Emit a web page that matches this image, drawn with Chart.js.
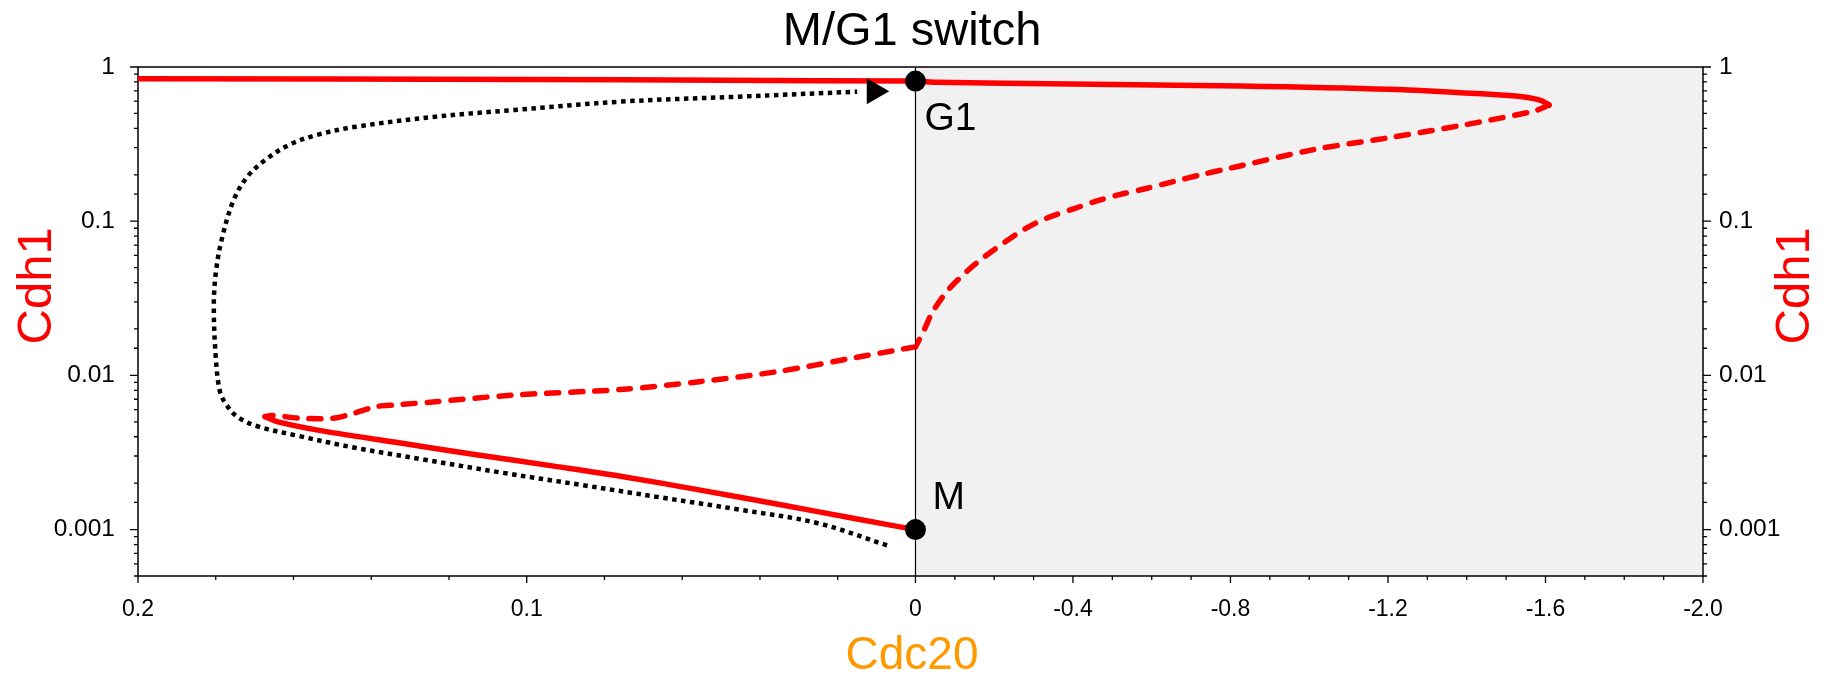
<!DOCTYPE html>
<html>
<head>
<meta charset="utf-8">
<title>M/G1 switch</title>
<script src="https://cdn.jsdelivr.net/npm/chart.js@4.4.1/dist/chart.umd.min.js"></script>
<style>
  body { margin: 0; background: #fff; }
  canvas { display: block; }
</style>
</head>
<body>
<canvas id="switchChart" width="1824" height="681"></canvas>
<script>
// [Cdc20, Cdh1] pairs. Cdc20 >= 0 sits on the left panel, Cdc20 <= 0 on the right one.
const g1StableLeft = [[0.2, 0.84], [0.1, 0.83], [0.05, 0.82], [0, 0.81]];
const g1StableRight = [[0, 0.81], [-0.052, 0.796], [-0.394, 0.775], [-0.824, 0.753], [-1.201, 0.716],
  [-1.486, 0.658], [-1.555, 0.635], [-1.59, 0.605], [-1.609, 0.567]];
const unstableRight = [[-1.609, 0.567], [-1.572, 0.519], [-1.391, 0.42], [-1.203, 0.348], [-1.014, 0.292],
  [-0.824, 0.228], [-0.796, 0.22], [-0.725, 0.2], [-0.656, 0.181], [-0.586, 0.163], [-0.515, 0.148],
  [-0.455, 0.134], [-0.405, 0.121], [-0.354, 0.1096], [-0.304, 0.0968], [-0.254, 0.0815],
  [-0.155, 0.0535], [-0.083, 0.0358], [-0.042, 0.0254], [-0.022, 0.0197], [0, 0.0153]];
const unstableLeft = [[0, 0.0153], [0.0048, 0.0146], [0.015, 0.0131], [0.0353, 0.0106], [0.0556, 0.0091],
  [0.0759, 0.0081], [0.1032, 0.00746], [0.1235, 0.00675], [0.1337, 0.00643], [0.1388, 0.00627],
  [0.1459, 0.00554], [0.15, 0.00527], [0.158, 0.00527], [0.1655, 0.0055], [0.1673, 0.0054]];
const mStableLeft = [[0.1673, 0.0054], [0.1642, 0.00501], [0.1541, 0.00443], [0.1337, 0.00368],
  [0.1134, 0.00307], [0.093, 0.00258], [0.0759, 0.00222], [0.0557, 0.00181], [0.0353, 0.00146],
  [0.015, 0.00117], [0, 0.001]];
const trajectory = [[0.0073, 0.00079], [0.0251, 0.0011], [0.0455, 0.00135], [0.0658, 0.00162],
  [0.0861, 0.00195], [0.1064, 0.00234], [0.1267, 0.00285], [0.1441, 0.00339], [0.1591, 0.00407],
  [0.1693, 0.00468], [0.1745, 0.0054], [0.1775, 0.0066], [0.179, 0.008],
  [0.18, 0.0132], [0.1805, 0.0279], [0.18, 0.0459], [0.1785, 0.0755], [0.1754, 0.137],
  [0.1719, 0.194], [0.1673, 0.249], [0.1612, 0.312], [0.1541, 0.362], [0.1439, 0.41],
  [0.1235, 0.476], [0.1032, 0.526], [0.0759, 0.596], [0.0455, 0.642], [0.015, 0.692]];
const arrowHead = [[0.0106, 0.697]];

const stateNames = ['G1', 'M'];
const stateCdc20 = [0, 0];
const stateCdh1 = [0.81, 0.001];

const cdh1TickLabels = [1, 0.1, 0.01, 0.001];
const cdc20LeftLabels = [0.2, 0.1, 0];
const cdc20RightLabels = [-0.4, -0.8, -1.2, -1.6, -2.0];
const yTitle = 'Cdh1';
const xTitle = 'Cdc20';

const RED = '#ff0000';
const ORANGE = '#ff9900';
const FONT = '"Liberation Sans", Arial, sans-serif';

const toXY = (pairs) => pairs.map(([x, y]) => ({ x, y }));
const near = (list, v) => list.some(t => Math.abs(t - v) < 1e-9);
const isDecade = (v) => Math.abs(Math.log10(v) - Math.round(Math.log10(v))) < 1e-6;
const fmtCdc20 = (v) => (v === 0 ? '0' : v.toFixed(1));

function line(data, xAxisID, style) {
  return Object.assign({
    data: toXY(data),
    xAxisID,
    yAxisID: 'y',
    showLine: true,
    pointRadius: 0,
    tension: 0.3,
    borderColor: RED,
    borderWidth: 5.5,
    borderCapStyle: 'round',
    borderJoinStyle: 'round',
  }, style);
}

// shaded right panel, frame and the Cdc20 = 0 divider
const panels = {
  id: 'panels',
  beforeDraw(chart) {
    const { ctx, chartArea: a, scales } = chart;
    const x0 = scales.xr.getPixelForValue(0);
    ctx.save();
    ctx.fillStyle = '#f1f1f1';
    ctx.fillRect(x0, a.top, a.right - x0, a.bottom - a.top);
    ctx.restore();
  },
  beforeDatasetsDraw(chart) {
    const { ctx, chartArea: a, scales } = chart;
    const x0 = Math.round(scales.xl.getPixelForValue(0)) + 0.5;
    ctx.save();
    ctx.strokeStyle = '#000';
    ctx.lineWidth = 1.5;
    ctx.strokeRect(a.left, a.top, a.right - a.left, a.bottom - a.top);
    ctx.lineWidth = 1.2;
    ctx.beginPath();
    ctx.moveTo(x0, a.top);
    ctx.lineTo(x0, a.bottom);
    ctx.stroke();
    ctx.restore();
  }
};

// outward tick marks, longer where a label sits
const tickMarks = {
  id: 'tickMarks',
  afterDraw(chart) {
    const { ctx, chartArea: a, scales } = chart;
    ctx.save();
    ctx.strokeStyle = '#000';
    ctx.lineWidth = 1.3;
    ctx.beginPath();
    scales.xl.ticks.forEach(t => {
      const px = scales.xl.getPixelForValue(t.value);
      const len = near(cdc20LeftLabels, t.value) ? 7 : 4;
      ctx.moveTo(px, a.bottom); ctx.lineTo(px, a.bottom + len);
    });
    scales.xr.ticks.forEach(t => {
      const px = scales.xr.getPixelForValue(t.value);
      const len = near(cdc20RightLabels, t.value) || t.value === 0 ? 7 : 4;
      ctx.moveTo(px, a.bottom); ctx.lineTo(px, a.bottom + len);
    });
    ['y', 'y2'].forEach(id => {
      const s = scales[id];
      const dir = id === 'y' ? -1 : 1;
      const x = id === 'y' ? a.left : a.right;
      s.ticks.forEach(t => {
        const py = s.getPixelForValue(t.value);
        const len = isDecade(t.value) ? 8 : 4;
        ctx.moveTo(x, py); ctx.lineTo(x + dir * len, py);
      });
    });
    ctx.stroke();
    ctx.restore();
  }
};

// Cdh1 on both sides, both reading bottom to top
const cdh1Titles = {
  id: 'cdh1Titles',
  afterDraw(chart) {
    const { ctx, chartArea: a } = chart;
    const cy = a.top + (a.bottom - a.top) * 0.43;
    ctx.save();
    ctx.font = '49px ' + FONT;
    ctx.fillStyle = RED;
    ctx.textAlign = 'center';
    ctx.textBaseline = 'middle';
    [a.left - 101, a.right + 92.5].forEach(cx => {
      ctx.save();
      ctx.translate(cx, cy);
      ctx.rotate(-Math.PI / 2);
      ctx.fillText(yTitle, 0, 0);
      ctx.restore();
    });
    ctx.restore();
  }
};

// G1 / M state names beside the black markers
const stateLabels = {
  id: 'stateLabels',
  afterDatasetsDraw(chart) {
    const { ctx, scales } = chart;
    ctx.save();
    ctx.fillStyle = '#000';
    ctx.font = '39px ' + FONT;
    ctx.textBaseline = 'alphabetic';
    ctx.textAlign = 'left';
    stateNames.forEach((name, i) => {
      const x = scales.xl.getPixelForValue(stateCdc20[i]);
      const y = scales.y.getPixelForValue(stateCdh1[i]);
      if (name === 'G1') ctx.fillText(name, x + 9, y + 49);
      else ctx.fillText(name, x + 17, y - 21);
    });
    ctx.restore();
  }
};

const cdh1Axis = (position, width, pad) => ({
  type: 'logarithmic',
  axis: 'y',
  position,
  min: 0.0005,
  max: 1,
  grid: { display: false, drawTicks: false },
  border: { display: false },
  afterFit: (scale) => { scale.width = width; },
  ticks: {
    autoSkip: false,
    padding: pad,
    color: '#000',
    font: { family: FONT, size: 24.5 },
    callback: (v) => (near(cdh1TickLabels, v) ? String(Number(v.toPrecision(1))) : '')
  }
});

const cdc20Axis = (min, max, step, labels, showZero, weight) => ({
  type: 'linear',
  axis: 'x',
  position: 'bottom',
  stack: 'cdc20',
  stackWeight: weight,
  min,
  max,
  reverse: true,
  grid: { display: false, drawTicks: false },
  border: { display: false },
  afterFit: (scale) => { scale.height = 48; },
  ticks: {
    stepSize: step,
    autoSkip: false,
    maxRotation: 0,
    padding: 20,
    color: '#000',
    font: { family: FONT, size: 23 },
    callback: (v) => ((near(labels, v) && (v !== 0 || showZero)) ? fmtCdc20(v) : '')
  }
});

new Chart(document.getElementById('switchChart'), {
  type: 'scatter',
  data: {
    datasets: [
      {
        data: stateCdc20.map((x, i) => ({ x, y: stateCdh1[i] })),
        xAxisID: 'xl', yAxisID: 'y',
        pointRadius: 10.5, pointBackgroundColor: '#000', pointBorderWidth: 0,
        clip: false
      },
      {
        data: toXY(arrowHead),
        xAxisID: 'xl', yAxisID: 'y',
        pointStyle: 'triangle', pointRotation: 90, pointRadius: 15,
        pointBackgroundColor: '#000', pointBorderWidth: 0, clip: false
      },
      line(g1StableLeft, 'xl', {}),
      line(g1StableRight, 'xr', {}),
      line(mStableLeft, 'xl', {}),
      line(unstableRight, 'xr', { borderDash: [12, 12] }),
      line(unstableLeft, 'xl', { borderDash: [12, 12] }),
      line(trajectory, 'xl', {
        borderColor: '#000', borderWidth: 4.5, borderDash: [4.5, 4.5],
        borderCapStyle: 'butt', tension: 0.35
      })
    ]
  },
  options: {
    responsive: false,
    animation: false,
    events: [],
    layout: { padding: 0 },
    plugins: {
      legend: { display: false },
      tooltip: { enabled: false },
      title: {
        display: true,
        text: 'M/G1 switch',
        color: '#000',
        font: { family: FONT, size: 47, weight: 'normal', lineHeight: 1.2 },
        padding: { top: 4, bottom: 6.6 }
      },
      subtitle: {
        display: true,
        position: 'bottom',
        text: xTitle,
        color: ORANGE,
        font: { family: FONT, size: 46, weight: 'normal', lineHeight: 1.0 },
        padding: { top: 9.5, bottom: 1.5 }
      }
    },
    scales: {
      xl: cdc20Axis(0, 0.2, 0.02, cdc20LeftLabels, true, 777.6),
      xr: cdc20Axis(-2, 0, 0.1, cdc20RightLabels, false, 787.7),
      y: cdh1Axis('left', 138, 23),
      y2: cdh1Axis('right', 121, 16)
    }
  },
  plugins: [panels, tickMarks, cdh1Titles, stateLabels]
});
</script>
</body>
</html>
